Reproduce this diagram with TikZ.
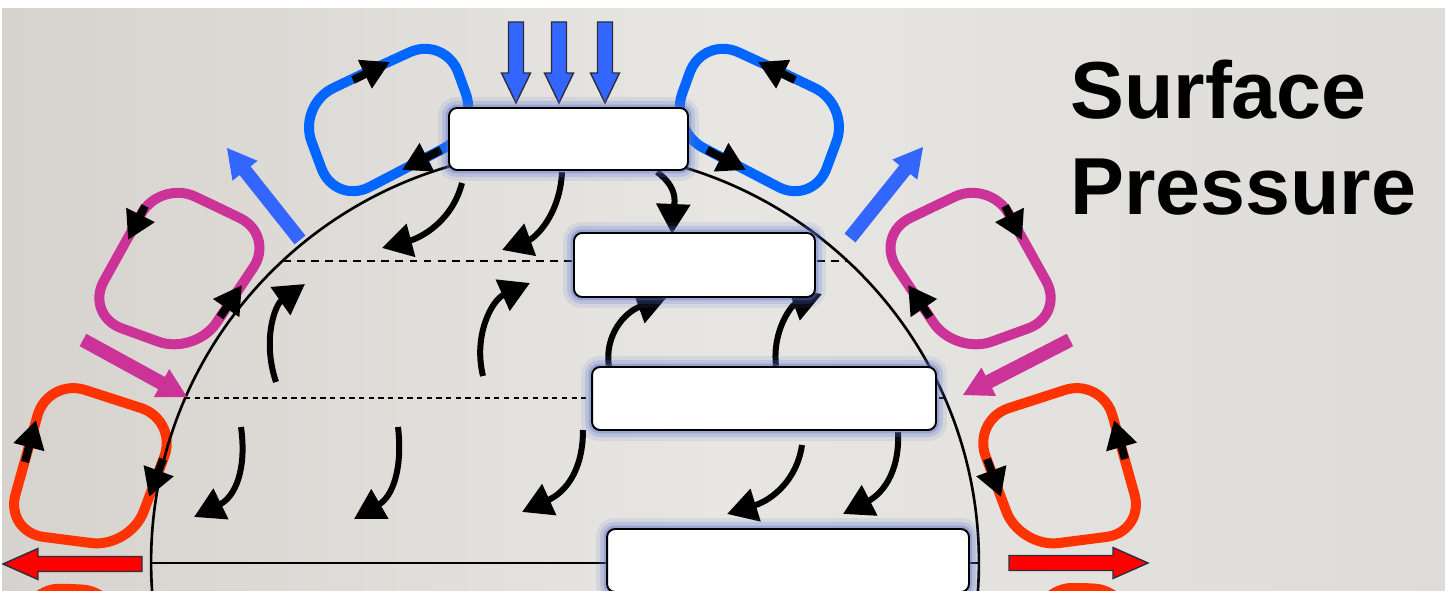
\documentclass[tikz,border=0pt]{standalone}
\usepackage{fontspec}
\setmainfont{Liberation Sans}
\usepackage{tikz}
\usetikzlibrary{arrows.meta,calc}
\definecolor{bgl}{RGB}{214,211,206}
\definecolor{bgm}{RGB}{232,230,227}
\definecolor{bgr}{RGB}{222,220,216}
\definecolor{cellblue}{RGB}{0,102,255}
\definecolor{windblue}{RGB}{51,102,255}
\definecolor{cellmag}{RGB}{204,51,153}
\definecolor{cellred}{RGB}{255,51,0}
\definecolor{windred}{RGB}{255,0,0}
\definecolor{glowc}{RGB}{90,115,205}
\definecolor{rim}{RGB}{45,45,60}
\tikzset{
  beltbox/.style={
    draw=black, line width=1.1pt, fill=white, rounded corners=0.16cm, inner sep=0pt,
    preaction={draw=glowc, draw opacity=0.12, line width=0.44cm},
    preaction={draw=glowc, draw opacity=0.20, line width=0.28cm},
    preaction={draw=glowc, draw opacity=0.35, line width=0.14cm}
  },
  cell/.style={line width=0.2cm, rounded corners=0.78cm, line join=round, line cap=round},
  turn/.style={-{Triangle[length=0.56cm,width=0.6cm]}, line width=0.16cm, draw=black},
  flow/.style={-{Triangle[length=0.6cm,width=0.66cm]}, line width=0.12cm, draw=black},
  blkout/.style={draw=rim, line width=0.8pt, line join=miter},
  ttl/.style={anchor=base west, inner sep=0pt, font=\fontsize{46}{52}\selectfont\bfseries}
}
\newcommand\blkarrow[7][]{%
  \coordinate (#2t) at #3;
  \coordinate (#2h) at #4;
  \coordinate (#2b) at ($(#2h)!#7!(#2t)$);
  \path[#1] ($(#2t)!#5!90:(#2h)$) -- ($(#2b)!#5!90:(#2h)$) -- ($(#2b)!#6!90:(#2h)$)
    -- (#2h) -- ($(#2b)!#6!-90:(#2h)$) -- ($(#2b)!#5!-90:(#2h)$) -- ($(#2t)!#5!-90:(#2h)$) -- cycle;}

\begin{document}
\begin{tikzpicture}[x=0.02cm,y=-0.02cm]
  \useasboundingbox (0,0) rectangle (1445,591);
  \clip (0,0) rectangle (1445,591);
  \fill[white] (0,0) rectangle (1445,591);
  \shade[left color=bgl, right color=bgr, middle color=bgm] (2,9) rectangle (1445,591);

  \draw[cell, cellblue] (371,70) -- (445,36) -- (479,130) -- (335,205) -- (298,105) -- (371,70);
  \draw[cell, cellblue] (777,70) -- (703,36) -- (669,130) -- (813,205) -- (850,105) -- (777,70);
  \draw[cell, cellmag] (217,207) -- (275,235) -- (195,355) -- (85,315) -- (160,180) -- (217,207);
  \draw[cell, cellmag] (933,207) -- (875,235) -- (955,355) -- (1065,315) -- (990,180) -- (933,207);
  \draw[cell, cellred] (113,399) -- (178,420) -- (130,548) -- (5,532) -- (48,378) -- (113,399);
  \draw[cell, cellred] (1037,399) -- (972,420) -- (1020,548) -- (1145,532) -- (1102,378) -- (1037,399);
  \draw[cell, cellred, rounded corners=0.6cm] (70,589) -- (112,591) -- (128,660) -- (16,660) -- (30,588) -- (70,589);
  \draw[cell, cellred, rounded corners=0.6cm] (1082,588) -- (1124,590) -- (1140,660) -- (1028,660) -- (1042,588) -- (1082,588);

  \draw[line width=1.2pt, dash pattern=on 4.5pt off 3.5pt] (283,261) -- (847,261);
  \draw[line width=0.6pt, dash pattern=on 3pt off 2.5pt] (185,398) -- (945,398);
  \draw[line width=1.3pt] (151,563) -- (979,563);
  \draw[line width=1.5pt] (565,562) ellipse [x radius=8.28cm, y radius=8.24cm];

  \foreach \n/\sx/\sy/\ax/\ay/\bx/\by/\ex/\ey in {
      A/462/183/452/222/420/238/382/248, B/562/172/560/215/535/238/502/250,
      C/657/172/682/190/673/210/672/234, D/276/382/262/340/275/305/305/284,
      E/483/376/473/335/492/300/530/283, F/609/367/604/335/625/312/667/297,
      G/776/366/772/330/792/305/822/294, H/241/427/247/470/235/497/194/517,
      I/398/427/403/470/392/497/354/519, J/583/430/583/470/566/492/522/512,
      K/802/445/797/480/772/500/727/514, L/898/432/900/475/880/495/843/514} {
    \coordinate (f\n s) at (\sx,\sy);
    \coordinate (f\n e) at (\ex,\ey);
    \draw[flow] (f\n s) .. controls (\ax,\ay) and (\bx,\by) .. (f\n e);
  }

  \foreach \n/\sx/\sy/\ex/\ey in {
      1/353/80/390/62, 2/441/150/402/170, 3/795/80/758/62, 4/707/150/746/170,
      5/145/206/128/240, 6/220/317/242/285, 7/1005/206/1022/240, 8/930/317/908/285,
      9/25/462/36/420, 10/163/459/149/497, 11/1125/459/1114/420, 12/987/459/1001/497} {
    \coordinate (c\n s) at (\sx,\sy);
    \coordinate (c\n e) at (\ex,\ey);
    \draw[turn] (c\n s) -- (c\n e);
  }

  \blkarrow[fill=windblue, blkout]{dn1}{(516,22)}{(516,103)}{0.15cm}{0.29cm}{0.6cm}
  \blkarrow[fill=windblue, blkout]{dn2}{(559,22)}{(559,103)}{0.15cm}{0.29cm}{0.6cm}
  \blkarrow[fill=windblue, blkout]{dn3}{(605,22)}{(605,103)}{0.15cm}{0.29cm}{0.6cm}
  \blkarrow[fill=windblue]{nw}{(300,240)}{(227,148)}{0.14cm}{0.32cm}{0.58cm}
  \blkarrow[fill=windblue]{ne}{(850,238)}{(923,147)}{0.14cm}{0.32cm}{0.58cm}
  \blkarrow[fill=cellmag]{mw}{(83,340)}{(187,397)}{0.14cm}{0.32cm}{0.58cm}
  \blkarrow[fill=cellmag]{me}{(1070,340)}{(963,395)}{0.14cm}{0.32cm}{0.58cm}
  \blkarrow[fill=windred, blkout]{rw}{(142,564)}{(3,564)}{0.15cm}{0.31cm}{0.7cm}
  \blkarrow[fill=windred, blkout]{re}{(1009,563)}{(1148,563)}{0.15cm}{0.31cm}{0.7cm}

  \node[beltbox, minimum width=4.78cm, minimum height=1.24cm] (polarhigh) at (568.5,139) {};
  \node[beltbox, minimum width=4.82cm, minimum height=1.28cm] (subpolarlow) at (694.5,265) {};
  \node[beltbox, minimum width=6.88cm, minimum height=1.26cm] (subtrophigh) at (764,398.5) {};
  \node[beltbox, minimum width=7.24cm, minimum height=1.26cm] (eqlow) at (788,560.5) {};

  \node[ttl] (ttlA) at (1070,119) {Surface};
  \node[ttl] (ttlB) at (1070,215) {Pressure};
\end{tikzpicture}
\end{document}
